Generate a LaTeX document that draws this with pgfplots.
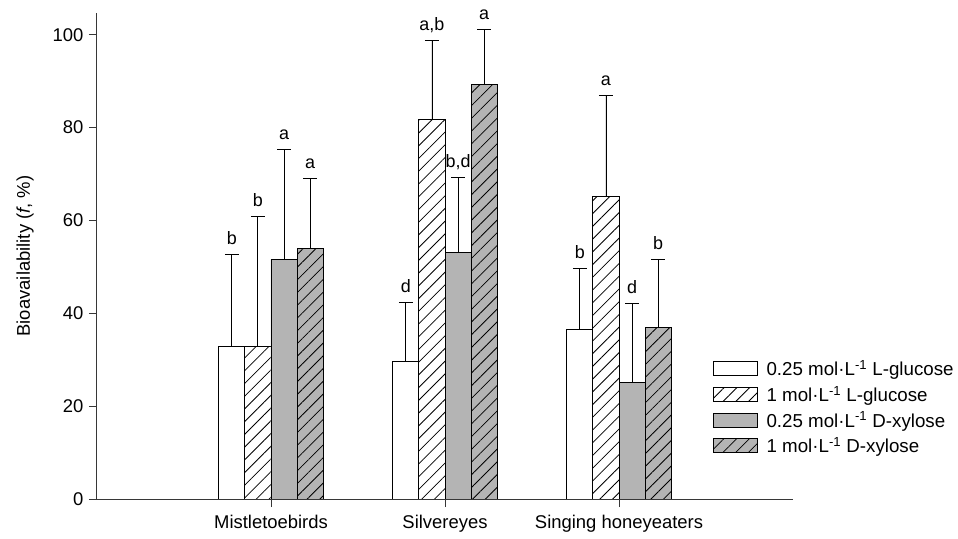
\documentclass[border=0pt]{standalone}
\usepackage{fontspec}
\setmainfont{Liberation Sans}
\usepackage{pgfplots}
\pgfplotsset{compat=1.18}
\usetikzlibrary{patterns.meta}

\definecolor{barfill}{RGB}{180,180,180}
\definecolor{axisgray}{RGB}{55,55,55}

\tikzset{hatch/.style={postaction={pattern={Lines[angle=45,distance=9bp,line width=0.8bp]},pattern color=black}}}

% bars are drawn at their own x (group centre +- offset), so error bars line up
\pgfplotsset{
  mybar/.style={ybar, bar width=0.15, bar shift=0, draw=black, line width=0.9bp,
    legend image code/.code={\draw[##1] (0bp,-7bp) rectangle (44bp,7bp);},
    error bars/y dir=plus, error bars/y explicit,
    error bars/error mark options={rotate=90, mark size=7bp, line width=0.9bp, black},
    error bars/error bar style={line width=0.9bp, black}},
}

\begin{document}
\begin{tikzpicture}
\useasboundingbox (-97bp,-40bp) rectangle (861bp,499bp);
\begin{axis}[
  scale only axis, width=696bp, height=486bp,
  xmin=0, xmax=4, ymin=0, ymax=104.7,
  axis x line=bottom, axis y line=left,
  axis line style={-, axisgray, line width=1bp},
  tick align=outside, major tick length=8bp,
  tick style={axisgray, line width=0.9bp},
  xtick={1,2,3},
  xticklabels={Mistletoebirds, Silvereyes, Singing honeyeaters},
  ytick={0,20,40,60,80,100},
  /pgf/number format/assume math mode=true,
  tick label style={font=\fontsize{18.5}{22}\selectfont},
  xticklabel style={yshift=-5bp},
  yticklabel style={xshift=-2bp},
  ylabel={Bioavailability (\textit{f}, \%)},
  every axis y label/.style={at={(rel axis cs:0,0.5)}, xshift=-72bp, rotate=90, anchor=center, font=\fontsize{18.5}{22}\selectfont},
  legend style={at={(rel axis cs:0.880,0.294)}, anchor=north west, draw=none, fill=none,
    font=\fontsize{18.8}{21}\selectfont, row sep=5bp, column sep=7bp},
  legend cell align=left,
]
\addplot[mybar, fill=white]
  coordinates {(0.775,32.8) +- (0,19.8) (1.775,29.7) +- (0,12.6) (2.775,36.6) +- (0,13.1)};
\addlegendentry{0.25 mol·L\textsuperscript{-1} L-glucose}
\addplot[mybar, fill=white, hatch]
  coordinates {(0.925,32.8) +- (0,28.0) (1.925,81.8) +- (0,17.0) (2.925,65.2) +- (0,21.7)};
\addlegendentry{1 mol·L\textsuperscript{-1} L-glucose}
\addplot[mybar, fill=barfill]
  coordinates {(1.075,51.7) +- (0,23.7) (2.075,53.2) +- (0,16.1) (3.075,25.1) +- (0,17.1)};
\addlegendentry{0.25 mol·L\textsuperscript{-1} D-xylose}
\addplot[mybar, fill=barfill, hatch]
  coordinates {(1.225,54.0) +- (0,15.0) (2.225,89.3) +- (0,11.9) (3.225,36.9) +- (0,14.8)};
\addlegendentry{1 mol·L\textsuperscript{-1} D-xylose}

% significance letters above the error bars
\addplot[draw=none, mark=none, forget plot, nodes near coords, point meta=explicit symbolic,
  nodes near coords style={anchor=base, inner sep=0pt, yshift=10bp, font=\fontsize{18}{21}\selectfont}]
  coordinates {
  (0.775,52.6) [b] (0.925,60.8) [b] (1.075,75.4) [a] (1.225,69.0) [a]
  (1.775,42.3) [d] (1.925,98.8) [{a,b}] (2.075,69.3) [{b,d}] (2.225,101.2) [a]
  (2.775,49.7) [b] (2.925,86.9) [a] (3.075,42.2) [d] (3.225,51.7) [b]
  };
\end{axis}
\end{tikzpicture}
\end{document}
